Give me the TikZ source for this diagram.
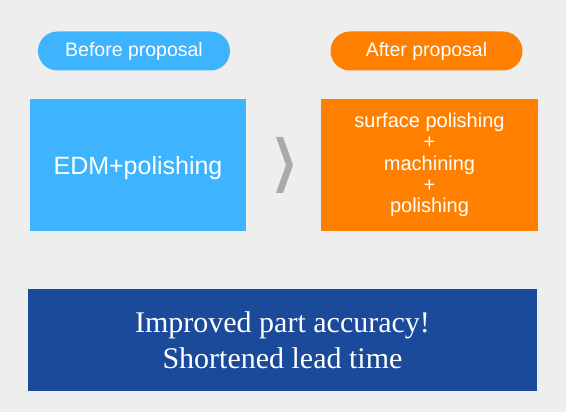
\documentclass[tikz,border=0pt]{standalone}
\usepackage{fontspec}
\setmainfont{Liberation Serif}
\setsansfont{Liberation Sans}
\definecolor{pageGray}{RGB}{238, 238, 238}
\definecolor{skyBlue}{RGB}{62, 180, 255}
\definecolor{propOrange}{RGB}{255, 128, 0}
\definecolor{deepBlue}{RGB}{27, 74, 155}
\definecolor{arrowGray}{RGB}{170, 170, 170}

\tikzset{
  pill/.style={rounded corners=19.5pt, minimum width=192pt, minimum height=39pt,
    text=white, font=\sffamily\fontsize{19.5}{22}\selectfont, inner sep=0pt},
  stepbox/.style={minimum width=216pt, minimum height=132pt, text=white,
    align=center, inner sep=0pt},
}

\begin{document}
\begin{tikzpicture}[x=1pt, y=-1pt]
        \fill[pageGray] (0,0) rectangle (566,412);
        \useasboundingbox (0,0) rectangle (566,412);
        % labels
        \node[pill, fill=skyBlue] (before) at (134,51) {Before proposal};
        \node[pill, fill=propOrange] (after) at (426.5,51) {After proposal};
        % process boxes
        \node[stepbox, fill=skyBlue, text height=24pt, font=\sffamily\fontsize{25}{28}\selectfont] (edm) at (138,165) {EDM+polishing};
        \node[stepbox, minimum width=217pt, fill=propOrange, font=\sffamily\fontsize{20}{21.3}\selectfont] (combo) at (429.5,165)
          {surface polishing\\+\\machining\\+\\polishing};
        \fill[arrowGray] (276,137) -- (283,137) -- (293,165) -- (283,193) -- (276,193) -- (286,165) -- cycle;
        % result
        \node[minimum width=509pt, minimum height=102pt, fill=deepBlue, text=white, align=center,
          font=\fontsize{30}{35.5}\selectfont] (result) at (282.5,340)
          {Improved part accuracy!\\Shortened lead time};
      \end{tikzpicture}
\end{document}
